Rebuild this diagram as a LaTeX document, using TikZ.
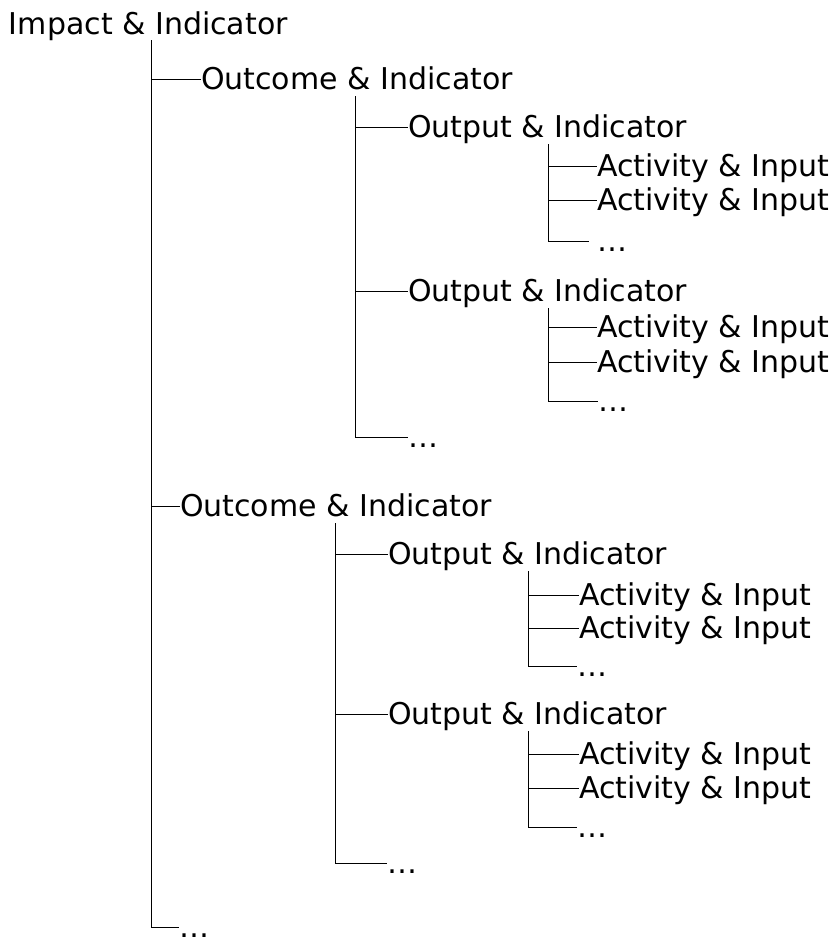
\documentclass[tikz,border=0pt]{standalone}
\usepackage{fontspec}
\setmainfont{DejaVu Sans}
\begin{document}
\begin{tikzpicture}[x=1pt,y=-1pt,
  item/.style={anchor=west, inner sep=0pt, outer sep=0pt, text height=28.2pt, text depth=6.4pt, font=\fontsize{30}{36}\selectfont},
  link/.style={draw=black, line width=1pt}]
\useasboundingbox (0,0) rectangle (837,940);
% nodes
\node[item] (root) at (9,23.1) {Impact \& Indicator};
\node[item] (o1) at (201,79) {Outcome \& Indicator};
\node[item] (p1) at (408,127) {Output \& Indicator};
\node[item] (a1) at (597,166) {Activity \& Input};
\node[item] (a2) at (597,200) {Activity \& Input};
\node[item] (d1) at (589,241) {\hspace{8pt}…};
\node[item] (p2) at (408,291) {Output \& Indicator};
\node[item] (a3) at (597,327) {Activity \& Input};
\node[item] (a4) at (597,362) {Activity \& Input};
\node[item] (d2) at (598,401) {…};
\node[item] (d3) at (408,437) {…};
\node[item] (o2) at (180,506) {Outcome \& Indicator};
\node[item] (p3) at (388,554) {Output \& Indicator};
\node[item] (a5) at (579,595) {Activity \& Input};
\node[item] (a6) at (579,628) {Activity \& Input};
\node[item] (d4) at (577,666) {…};
\node[item] (p4) at (388,714) {Output \& Indicator};
\node[item] (a7) at (579,754) {Activity \& Input};
\node[item] (a8) at (579,788) {Activity \& Input};
\node[item] (d5) at (577,827) {…};
\node[item] (d6) at (387,863) {…};
\node[item] (d7) at (179,927) {…};
% vertical line positions
\coordinate (v0) at (151,0);
\coordinate (v1) at (355,0);
\coordinate (v2) at (548,0);
\coordinate (v3) at (335,0);
\coordinate (v4) at (528,0);
% connectors
\foreach \c in {o1,o2,d7} \draw[link] (root.south -| v0) |- (\c.west);
\foreach \c in {p1,p2,d3} \draw[link] (o1.south -| v1) |- (\c.west);
\foreach \c in {a1,a2,d1} \draw[link] (p1.south -| v2) |- (\c.west);
\foreach \c in {a3,a4,d2} \draw[link] (p2.south -| v2) |- (\c.west);
\foreach \c in {p3,p4,d6} \draw[link] (o2.south -| v3) |- (\c.west);
\foreach \c in {a5,a6,d4} \draw[link] (p3.south -| v4) |- (\c.west);
\foreach \c in {a7,a8,d5} \draw[link] (p4.south -| v4) |- (\c.west);
\end{tikzpicture}
\end{document}
